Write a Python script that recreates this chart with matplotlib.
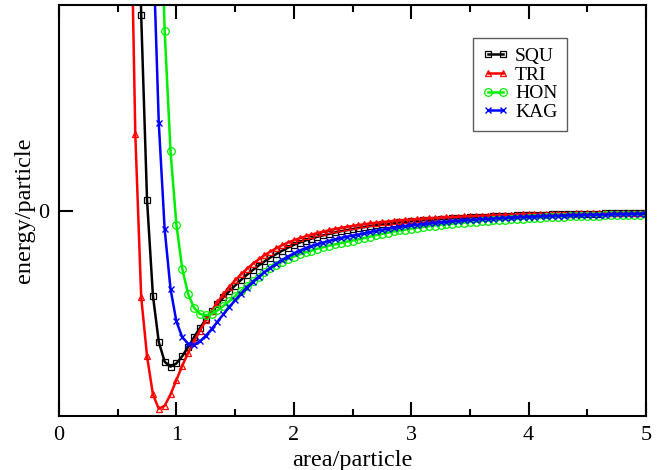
import numpy as np
import matplotlib
matplotlib.use("Agg")
import matplotlib.pyplot as plt
from matplotlib.ticker import MultipleLocator

plt.rcParams['font.family'] = ['Liberation Serif', 'DejaVu Serif']

# shared area grid, 0.60 ... 5.00 in steps of 0.05
area = np.round(np.arange(0.60, 5.0001, 0.05), 2)
nan = np.nan

squ = [nan, 2.66, 0.95, 0.05, -0.414, -0.640, -0.736, -0.760, -0.744, -0.709,
       -0.664, -0.617, -0.572, -0.530, -0.491, -0.456, -0.423, -0.393, -0.365, -0.338,
       -0.313, -0.290, -0.268, -0.248, -0.229, -0.212, -0.196, -0.181, -0.167, -0.156,
       -0.146, -0.137, -0.128, -0.121, -0.114, -0.107, -0.101, -0.096, -0.091, -0.085,
       -0.081, -0.076, -0.072, -0.068, -0.065, -0.061, -0.058, -0.056, -0.053, -0.050,
       -0.048, -0.046, -0.044, -0.042, -0.040, -0.038, -0.037, -0.035, -0.034, -0.032,
       -0.031, -0.030, -0.028, -0.027, -0.026, -0.025, -0.024, -0.023, -0.022, -0.022,
       -0.021, -0.020, -0.019, -0.019, -0.018, -0.017, -0.017, -0.016, -0.016, -0.015,
       -0.015, -0.014, -0.014, -0.013, -0.013, -0.013, -0.012, -0.012, -0.012]

tri = [1.90, 0.37, -0.42, -0.71, -0.895, -0.965, -0.950, -0.895, -0.825, -0.755,
       -0.693, -0.637, -0.585, -0.535, -0.488, -0.447, -0.408, -0.372, -0.340, -0.311,
       -0.284, -0.260, -0.238, -0.218, -0.200, -0.184, -0.169, -0.156, -0.145, -0.135,
       -0.126, -0.117, -0.110, -0.103, -0.096, -0.090, -0.085, -0.080, -0.075, -0.071,
       -0.067, -0.063, -0.060, -0.057, -0.054, -0.051, -0.049, -0.046, -0.044, -0.042,
       -0.040, -0.038, -0.036, -0.035, -0.033, -0.032, -0.031, -0.029, -0.028, -0.027,
       -0.026, -0.025, -0.024, -0.023, -0.022, -0.021, -0.020, -0.019, -0.019, -0.018,
       -0.017, -0.017, -0.016, -0.016, -0.015, -0.015, -0.014, -0.014, -0.013, -0.013,
       -0.012, -0.012, -0.012, -0.011, -0.011, -0.011, -0.010, -0.010, -0.010]

hon = [nan, nan, nan, nan, nan, 1.83, 0.874, 0.288, -0.069, -0.283,
       -0.407, -0.473, -0.503, -0.510, -0.503, -0.486, -0.465, -0.442, -0.417, -0.392,
       -0.367, -0.344, -0.322, -0.301, -0.282, -0.265, -0.250, -0.236, -0.224, -0.213,
       -0.203, -0.195, -0.186, -0.179, -0.171, -0.165, -0.158, -0.152, -0.146, -0.140,
       -0.134, -0.127, -0.120, -0.114, -0.108, -0.102, -0.097, -0.093, -0.088, -0.084,
       -0.080, -0.076, -0.073, -0.070, -0.067, -0.064, -0.061, -0.059, -0.056, -0.054,
       -0.051, -0.049, -0.047, -0.046, -0.044, -0.042, -0.041, -0.039, -0.037, -0.036,
       -0.035, -0.034, -0.032, -0.031, -0.030, -0.029, -0.028, -0.027, -0.026, -0.025,
       -0.025, -0.024, -0.023, -0.022, -0.022, -0.021, -0.020, -0.020, -0.019]

kag = [nan, nan, nan, nan, 1.32, 0.425, -0.091, -0.382, -0.540, -0.617,
       -0.648, -0.653, -0.637, -0.610, -0.577, -0.541, -0.505, -0.470, -0.437, -0.405,
       -0.375, -0.348, -0.323, -0.300, -0.279, -0.259, -0.241, -0.224, -0.209, -0.195,
       -0.183, -0.173, -0.164, -0.156, -0.148, -0.141, -0.134, -0.128, -0.122, -0.117,
       -0.111, -0.105, -0.099, -0.094, -0.089, -0.084, -0.080, -0.076, -0.072, -0.069,
       -0.066, -0.063, -0.060, -0.057, -0.055, -0.053, -0.050, -0.048, -0.046, -0.044,
       -0.042, -0.041, -0.039, -0.038, -0.036, -0.035, -0.034, -0.032, -0.031, -0.030,
       -0.029, -0.028, -0.027, -0.026, -0.025, -0.024, -0.023, -0.022, -0.022, -0.021,
       -0.020, -0.020, -0.019, -0.018, -0.018, -0.017, -0.017, -0.016, -0.016]

fig = plt.figure(figsize=(6.65, 4.7), dpi=100)
ax = fig.add_axes([59/665, 54/470, 587/665, 411/470])

ax.plot(area, squ, color='black', lw=1.8, marker='s', ms=3.8, mfc='none', mew=0.9, label='SQU')
ax.plot(area, tri, color='#ff0000', lw=1.8, marker='^', ms=4.5, mfc='none', mew=0.9, label='TRI')
ax.plot(area, hon, color='#00ee00', lw=1.8, marker='o', ms=5.5, mfc='none', mew=0.9, label='HON')
ax.plot(area, kag, color='#0000ff', lw=1.8, marker='x', ms=4.5, mew=1.0, label='KAG')

ax.set_xlim(0, 5)
ax.set_ylim(-1, 1)
ax.set_xticks(range(6))
ax.xaxis.set_minor_locator(MultipleLocator(0.5))
ax.set_yticks([0])
ax.tick_params(which='both', direction='in', top=True, right=True, width=1.5, labelsize=16)
ax.tick_params(which='major', length=10, pad=7)
ax.tick_params(which='minor', length=5)
for s in ax.spines.values():
    s.set_linewidth(1.5)

ax.set_xlabel('area/particle', fontsize=17.5, labelpad=4)
ax.set_ylabel('energy/particle', fontsize=17.5, labelpad=2)

leg = ax.legend(loc='upper left', bbox_to_anchor=(0.705, 0.92), borderaxespad=0,
                numpoints=2, handlelength=1.37, handletextpad=0.3, borderpad=0.5,
                labelspacing=0.05, fontsize=14, fancybox=False, edgecolor='#333333')
leg.get_frame().set_linewidth(1.0)

fig.savefig('out.png', dpi=100)
